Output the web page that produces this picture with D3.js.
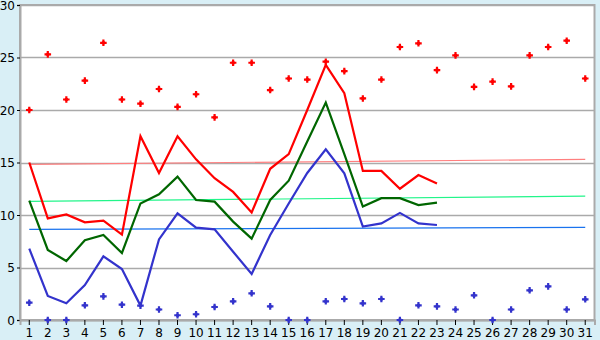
<!DOCTYPE html>
<meta charset="utf-8">
<head>
<style>
  body { margin: 0; background: #d9eff6; }
  svg { display: block; }
  text { font-family: "DejaVu Sans", Verdana, sans-serif; font-size: 12px; fill: #000; }
</style>
</head>
<body>
<script src="https://d3js.org/d3.v7.min.js"></script>
<div id="chart"></div>
<script>

// days of the month
var days = d3.range(1, 32);
var yTicks = [0, 5, 10, 15, 20, 25, 30];

// daily max / min points
var maxPts = [20.0, 25.3, 21.0, 22.8, 26.4, 21.0, 20.6, 22.0, 20.3, 21.5,
              19.3, 24.5, 24.5, 21.9, 23.0, 22.9, 24.6, 23.7, 21.1, 22.9,
              26.0, 26.35, 23.8, 25.2, 22.2, 22.7, 22.25, 25.2, 26.0, 26.6, 23.0];
var minPts = [1.65, 0, 0, 1.4, 2.25, 1.46, 1.37, 1.0, 0.45, 0.55,
              1.24, 1.78, 2.54, 1.3, 0, 0, 1.78, 2.0, 1.59, 2.0,
              0, 1.4, 1.3, 1.0, 2.35, 0, 1.0, 2.83, 3.2, 1.0, 1.97];

// lines (days 1..23)
var redLine = [15.0, 9.68, 10.06, 9.3, 9.46, 8.13, 17.5, 14.0, 17.5, 15.3,
               13.5, 12.2, 10.25, 14.4, 15.8, 20.0, 24.3, 21.6, 14.2, 14.2,
               12.5, 13.8, 13.0];
var greenLine = [11.36, 6.67, 5.62, 7.59, 8.1, 6.38, 11.1, 11.97, 13.65, 11.43,
                 11.27, 9.37, 7.75, 11.43, 13.27, 17.0, 20.7, 15.8, 10.8, 11.6,
                 11.6, 10.95, 11.17];
var blueLine = [6.8, 2.29, 1.59, 3.33, 6.06, 4.86, 1.37, 7.68, 10.16, 8.79,
                8.63, 6.5, 4.38, 8.1, 11.1, 14.0, 16.25, 13.97, 8.9, 9.2,
                10.2, 9.2, 9.05];

// trend lines [start, end] over days 1..31
var redTrend = [14.83, 15.3];
var greenTrend = [11.3, 11.8];
var blueTrend = [8.63, 8.83];

var width = 600, height = 340;
var margin = {top: 5, right: 5.5, bottom: 20, left: 20};

var svg = d3.select("#chart").append("svg")
  .attr("width", width)
  .attr("height", height);

var x = d3.scaleBand()
  .domain(days)
  .range([margin.left, width - margin.right]);

var y = d3.scaleLinear()
  .domain([0, 30])
  .range([height - margin.bottom, margin.top]);

function cx(d) { return x(d) + x.bandwidth() / 2; }

// plot area
svg.append("rect")
  .attr("x", margin.left)
  .attr("y", margin.top)
  .attr("width", width - margin.left - margin.right)
  .attr("height", height - margin.top - margin.bottom)
  .attr("fill", "#fff")
  .attr("stroke", "#aaa")
  .attr("stroke-width", 2);

// gridlines
svg.selectAll(".grid")
  .data(yTicks)
  .enter().append("line")
  .attr("x1", margin.left)
  .attr("x2", width - margin.right)
  .attr("y1", function(d) { return Math.round(y(d)) + 0.5; })
  .attr("y2", function(d) { return Math.round(y(d)) + 0.5; })
  .attr("stroke", "#aaa")
  .attr("stroke-width", 1.5);

// axes
var yAxis = svg.append("g")
  .attr("transform", "translate(" + margin.left + ",0)")
  .call(d3.axisLeft(y).tickValues(yTicks).tickSize(3).tickPadding(2));
yAxis.select(".domain").attr("stroke", "#aaa").attr("stroke-width", 2);
yAxis.selectAll(".tick line").attr("stroke", "#000");
yAxis.selectAll(".tick text").attr("dy", "0.36em");

var xAxis = svg.append("g")
  .attr("transform", "translate(0," + (height - margin.bottom) + ")")
  .call(d3.axisBottom(x).tickSize(5).tickPadding(3));
xAxis.select(".domain").attr("stroke", "#aaa").attr("stroke-width", 2);
xAxis.selectAll(".tick line").attr("stroke", "#000");
svg.selectAll(".tick text").style("font-size", "12px").style("font-family", "DejaVu Sans, Verdana, sans-serif");

// trend lines
function drawTrend(t, color) {
  svg.append("line")
    .attr("x1", cx(1)).attr("x2", cx(31))
    .attr("y1", y(t[0])).attr("y2", y(t[1]))
    .attr("stroke", color)
    .attr("stroke-width", 1.2);
}
drawTrend(redTrend, "#ff7f7f");
drawTrend(greenTrend, "#22f58a");
drawTrend(blueTrend, "#1a73ee");

// data lines
var line = d3.line()
  .x(function(d, i) { return cx(i + 1); })
  .y(function(d) { return y(d); });

function drawLine(vals, color) {
  svg.append("path")
    .datum(vals)
    .attr("d", line)
    .attr("fill", "none")
    .attr("stroke", color)
    .attr("stroke-width", 2.2);
}
drawLine(redLine, "#ff0000");
drawLine(greenLine, "#006600");
drawLine(blueLine, "#3333cc");

// points: small plus with a filled center
var cross = d3.symbol().type(d3.symbolCross).size(24);
var dot = d3.symbol().type(d3.symbolSquare).size(9);
function drawPts(vals, color) {
  var g = svg.append("g").selectAll("g")
    .data(vals)
    .enter().append("g")
    .attr("transform", function(d, i) { return "translate(" + cx(i + 1) + "," + y(d) + ")"; });
  g.append("path").attr("d", cross).attr("fill", color);
  g.append("path").attr("d", dot).attr("fill", color);
}
drawPts(maxPts, "#ff0000");
drawPts(minPts, "#3333cc");

</script>
</body>
